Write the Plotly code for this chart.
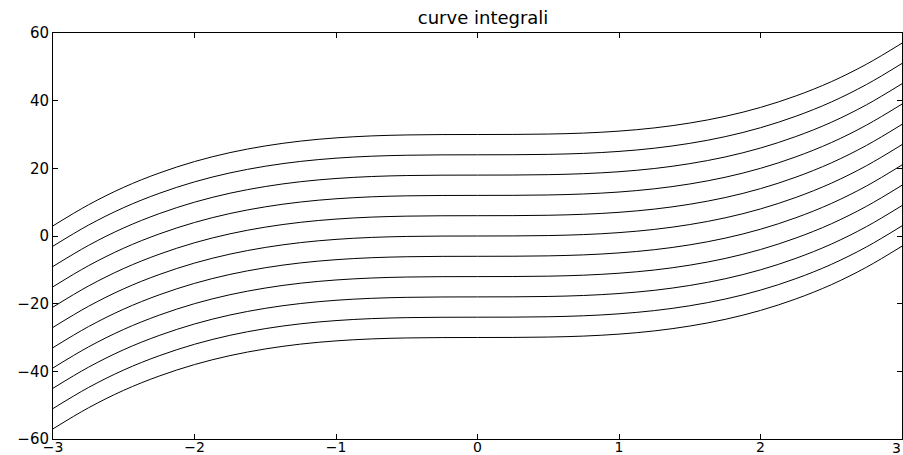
import plotly.graph_objects as go

# x positions and base curve values (curve through origin)
x_vals = [-3.0, -2.75, -2.5, -2.25, -2.0, -1.75, -1.5, -1.25, -1.0, -0.75, -0.5, -0.25,
          0.0, 0.25, 0.5, 0.75, 1.0, 1.25, 1.5, 1.75, 2.0, 2.25, 2.5, 2.75, 3.0]
base_vals = [-27.0, -20.8, -15.6, -11.4, -8.0, -5.36, -3.38, -1.95, -1.0, -0.42, -0.13, -0.02,
             0.0, 0.02, 0.13, 0.42, 1.0, 1.95, 3.38, 5.36, 8.0, 11.4, 15.6, 20.8, 27.0]
# vertical offsets of the integral curves
offsets = [30, 24, 18, 12, 6, 0, -6, -12, -18, -24, -30]

x_ticks = [-3, -2, -1, 0, 1, 2, 3]
y_ticks = [-60, -40, -20, 0, 20, 40, 60]

fig = go.Figure()
for c in offsets:
    fig.add_trace(go.Scatter(x=x_vals, y=[b + c for b in base_vals], mode="lines",
                             line=dict(color="black", width=1, shape="spline"),
                             showlegend=False, hoverinfo="skip"))

axis_common = dict(showline=True, mirror="allticks", linecolor="black", linewidth=1,
                   ticks="inside", ticklen=5, tickcolor="black", showgrid=False,
                   zeroline=False)

xfont = dict(family="DejaVu Sans", size=14, color="black")

fig.update_layout(
    width=903, height=455,
    margin=dict(l=53, r=1, t=33, b=16),
    paper_bgcolor="white", plot_bgcolor="white",
    title=dict(text="curve integrali", xref="container", x=0.535, xanchor="center",
               yref="container", y=0.962, yanchor="middle",
               font=dict(family="DejaVu Sans", size=18, color="black")),
    xaxis=dict(range=[-3, 3], tickvals=x_ticks,
               ticktext=[str(t).replace("-", "\u2212") for t in x_ticks],
               ticklabelstandoff=-5, tickfont=xfont, **axis_common),
    yaxis=dict(range=[-60, 60], tickvals=y_ticks,
               ticktext=[str(t).replace("-", "\u2212") for t in y_ticks],
               tickfont=dict(family="DejaVu Sans", size=15, color="black"), **axis_common),
)
# last x tick label sits at the right edge of the page; keep it inside the page
fig.add_annotation(text=str(x_ticks[-1]), xref="paper", x=1, xanchor="right",
                   yref="paper", y=0, yanchor="top", yshift=0, showarrow=False,
                   font=xfont, borderpad=0)
fig.write_html(
    "out.html",
    config={"displayModeBar": False, "staticPlot": True},
    post_script="document.body.style.margin='0';document.body.style.overflow='hidden';",
)
